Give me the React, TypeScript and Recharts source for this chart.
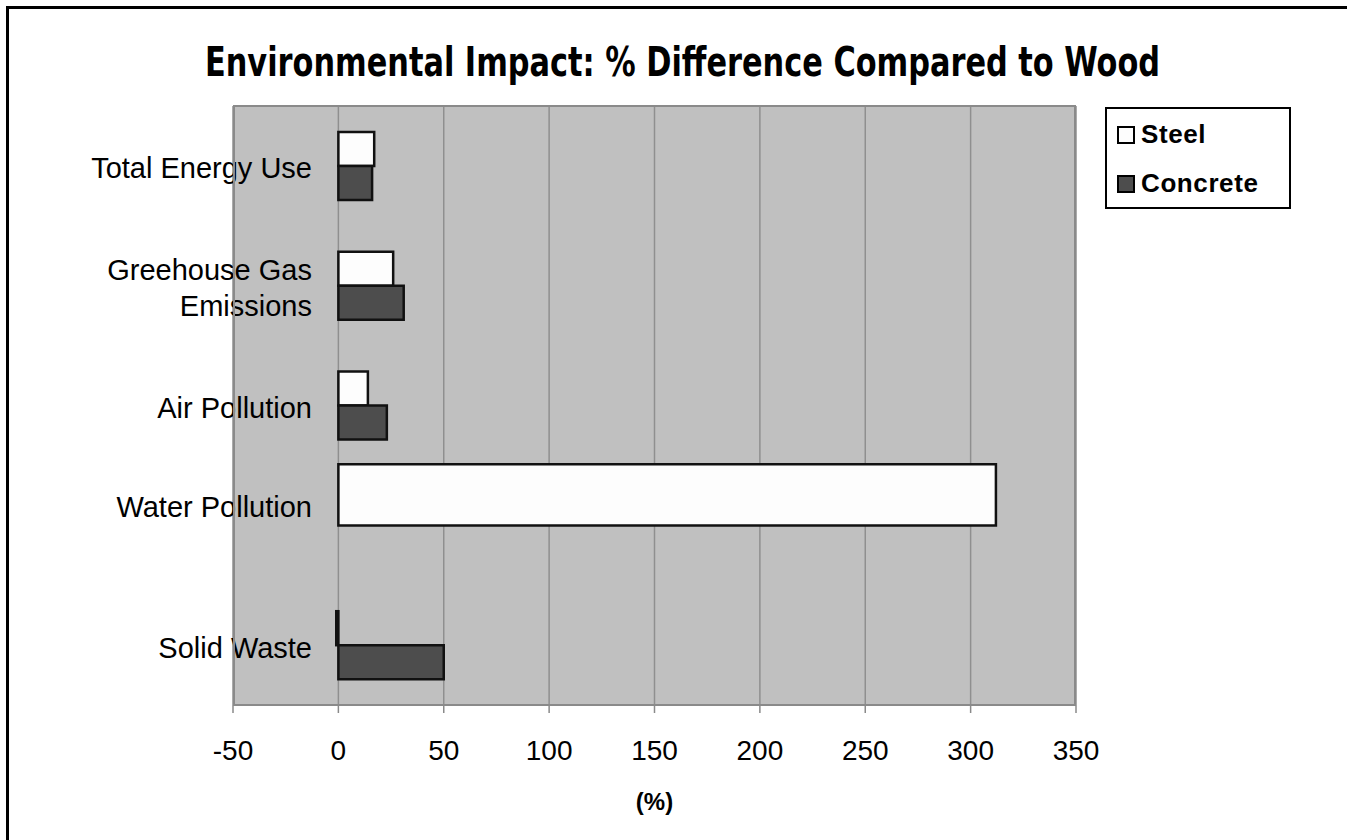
import { BarChart, Bar, XAxis, YAxis, CartesianGrid, Label, Rectangle } from 'recharts';

const categories = ['Total Energy Use', 'Greehouse Gas\nEmissions', 'Air Pollution', 'Water Pollution', 'Solid Waste'];
const steelValues = [17, 26, 14, 312, -1];
const concreteValues: (number | null)[] = [16, 31, 23, null, 50];
const xTicks = [-50, 0, 50, 100, 150, 200, 250, 300, 350];

const series = [
    { key: 'steel', name: 'Steel', fill: '#fdfdfd' },
    { key: 'concrete', name: 'Concrete', fill: '#4d4d4d' },
];

const data = categories.map((name, i) => ({
    name,
    steel: steelValues[i],
    concrete: concreteValues[i],
}));

const sansFont = '"Liberation Sans", Arial, sans-serif';

const CategoryTick = ({ x, y, payload }: any) => {
    const lines = String(payload.value).split('\n');
    const lineGap = 36;
    // the lone steel bar is drawn taller, so its label sits a bit higher
    const lone = concreteValues[payload.index] == null;
    const start = -((lines.length - 1) * lineGap) / 2 + (lone ? -19 : 2);
    return (
        <text x={x + 79} y={y} textAnchor="end" fontSize={29} fontFamily={sansFont} fill="#000">
            {lines.map((line, i) => (
                <tspan key={i} x={x + 79} y={y + start + i * lineGap} dy="0.36em">
                    {line}
                </tspan>
            ))}
        </text>
    );
};

// a lone steel bar (no concrete next to it) is drawn taller, as in the source chart
const SteelShape = (props: any) => {
    const { x, y, width, height, fill, payload } = props;
    const lone = payload.concrete == null;
    const h = lone ? height * 1.8 : height;
    const top = lone ? y - height * 0.8 : y;
    return <Rectangle x={x} y={top} width={width} height={h} fill={fill} stroke="#111" strokeWidth={2.5} />;
};

export default function App() {
    return (
        <div style={{ position: 'absolute', left: 0, top: 0, width: 1347, height: 840, background: '#fff' }}>
            <div
                style={{
                    position: 'absolute',
                    left: 6,
                    top: 6,
                    width: 1341,
                    height: 834,
                    borderTop: '3px solid #000',
                    borderLeft: '3px solid #000',
                    boxSizing: 'border-box',
                }}
            />
            <svg width={1347} height={100} style={{ position: 'absolute', left: 0, top: 0 }}>
                <text
                    x={205}
                    y={76}
                    fontSize={40}
                    fontWeight="bold"
                    fontFamily='"DejaVu Sans Condensed", "DejaVu Sans", sans-serif'
                    textLength={955}
                    lengthAdjust="spacingAndGlyphs"
                    fill="#000"
                >
                    Environmental Impact: % Difference Compared to Wood
                </text>
            </svg>
            <div style={{ position: 'absolute', left: 0, top: 0 }}>
                <BarChart
                    width={1347}
                    height={840}
                    data={data}
                    layout="vertical"
                    margin={{ top: 106, right: 271, bottom: 0, left: 8 }}
                    barSize={34}
                    barGap={0}
                >
                    <CartesianGrid horizontal={false} fill="#c0c0c0" stroke="#8f8f8f" strokeWidth={1.5} />
                    <XAxis
                        type="number"
                        domain={[-50, 350]}
                        ticks={xTicks}
                        height={135}
                        axisLine={false}
                        tickLine={{ stroke: '#8a8a8a', strokeWidth: 1.5 }}
                        tickSize={8}
                        tickMargin={27}
                        tick={{ fontSize: 28, fill: '#000', fontFamily: sansFont }}
                        interval={0}
                    >
                        <Label
                            value="(%)"
                            position="insideBottom"
                            offset={30}
                            fontSize={24}
                            fontWeight="bold"
                            fill="#000"
                            fontFamily={sansFont}
                        />
                    </XAxis>
                    <YAxis
                        type="category"
                        dataKey="name"
                        width={225}
                        axisLine={false}
                        tickLine={false}
                        tickSize={0}
                        tickMargin={0}
                        tick={<CategoryTick />}
                        interval={0}
                    />
                    <Bar dataKey="steel" name="Steel" fill={series[0].fill} shape={<SteelShape />} isAnimationActive={false} />
                    <Bar
                        dataKey="concrete"
                        name="Concrete"
                        fill={series[1].fill}
                        stroke="#111"
                        strokeWidth={2.5}
                        isAnimationActive={false}
                    />
                </BarChart>
            </div>
            <div
                style={{
                    position: 'absolute',
                    left: 233,
                    top: 105,
                    width: 843,
                    height: 601,
                    border: '2px solid #8a8a8a',
                    boxSizing: 'border-box',
                    pointerEvents: 'none',
                }}
            />
            <div
                style={{
                    position: 'absolute',
                    left: 1105,
                    top: 107,
                    width: 186,
                    height: 102,
                    border: '2px solid #000',
                    boxSizing: 'border-box',
                    background: '#fff',
                    fontFamily: sansFont,
                    fontWeight: 'bold',
                    fontSize: 26,
                    letterSpacing: 0.6,
                    paddingLeft: 10,
                    paddingTop: 1,
                }}
            >
                {series.map((s) => (
                    <div key={s.key} style={{ display: 'flex', alignItems: 'center', height: 49 }}>
                        <span
                            style={{
                                display: 'inline-block',
                                width: 14,
                                height: 14,
                                background: s.fill,
                                border: '2px solid #000',
                                marginRight: 6,
                            }}
                        />
                        {s.name}
                    </div>
                ))}
            </div>
        </div>
    );
}
